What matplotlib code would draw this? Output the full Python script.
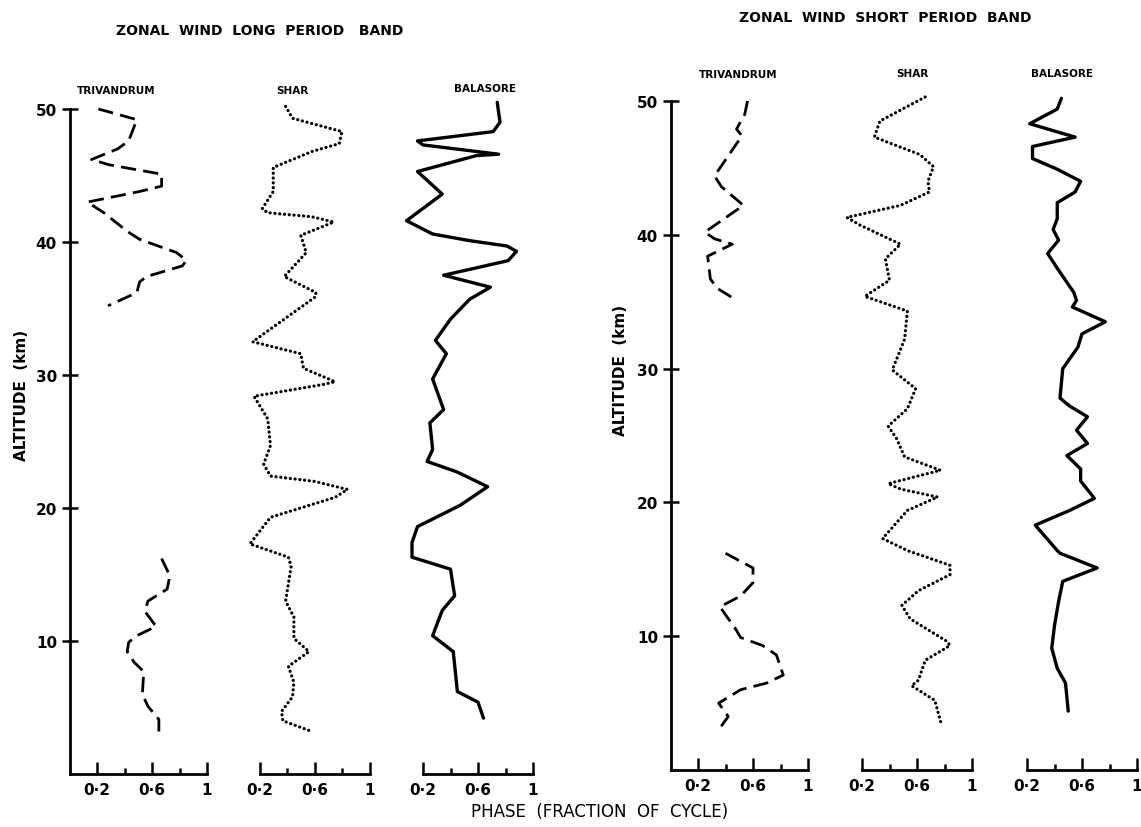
import numpy as np
import matplotlib.pyplot as plt

nan = np.nan

# ---------------- long period band ----------------
lp_triv_alt = [50.0, 49.2, 47.6, 47.0, 46.2, 45.8, 45.1, 44.2, 43.8, 43.0, 42.2, 40.8, 40.2,
               39.2, 38.6, 38.2, 37.4, 37.0, 36.2, 35.2, nan,
               16.2, 14.9, 13.9, 13.0, 12.2, 11.1, 10.4, 9.9, 9.2, 8.4, 7.7, 6.0, 5.1, 4.1, 3.2]
lp_triv_phase = [0.21, 0.49, 0.43, 0.35, 0.16, 0.29, 0.67, 0.67, 0.51, 0.13, 0.25, 0.42, 0.51,
                 0.78, 0.85, 0.82, 0.56, 0.51, 0.49, 0.28, nan,
                 0.67, 0.73, 0.71, 0.57, 0.55, 0.63, 0.49, 0.43, 0.42, 0.47, 0.54, 0.53, 0.57, 0.65, 0.65]

lp_shar_alt = [50.2, 49.3, 48.3, 47.4, 46.8, 45.6, 43.8, 42.5, 42.2, 41.9, 41.5, 40.5, 39.2,
               37.4, 36.2, 35.9, 32.5, 31.6, 30.5, 29.5, 29.3, 28.4, 26.7, 24.7, 23.3, 22.4,
               22.0, 21.4, 20.8, 19.3, 17.3, 16.3, 15.6, 13.0, 11.8, 10.2, 9.2, 8.1, 6.9, 5.8,
               4.7, 4.0, 3.2]
lp_shar_phase = [0.39, 0.44, 0.80, 0.78, 0.58, 0.30, 0.30, 0.22, 0.26, 0.58, 0.74, 0.50, 0.54,
                 0.38, 0.61, 0.61, 0.15, 0.50, 0.52, 0.75, 0.67, 0.16, 0.26, 0.28, 0.23, 0.28,
                 0.60, 0.84, 0.75, 0.28, 0.13, 0.41, 0.43, 0.39, 0.45, 0.45, 0.56, 0.41, 0.45, 0.44,
                 0.36, 0.37, 0.58]

lp_bala_alt = [50.5, 49.0, 48.3, 47.6, 47.3, 46.6, 46.5, 45.3, 43.6, 41.6, 40.6, 40.1, 39.7,
               39.3, 38.6, 37.5, 36.6, 35.7, 34.2, 32.6, 31.6, 29.7, 27.4, 26.4, 24.4, 23.5,
               22.7, 21.6, 20.2, 18.6, 17.4, 16.3, 15.4, 13.4, 12.3, 10.4, 9.2, 6.2, 5.4, 4.2]
lp_bala_phase = [0.74, 0.76, 0.71, 0.16, 0.20, 0.75, 0.59, 0.16, 0.34, 0.08, 0.27, 0.54, 0.81,
                 0.88, 0.82, 0.35, 0.69, 0.54, 0.40, 0.29, 0.37, 0.27, 0.35, 0.25, 0.27, 0.23,
                 0.45, 0.67, 0.47, 0.16, 0.12, 0.12, 0.40, 0.43, 0.34, 0.27, 0.42, 0.45, 0.60, 0.64]

# ---------------- short period band ----------------
sp_triv_alt = [50.0, 49.0, 47.9, 47.4, 44.4, 43.6, 42.2, 40.2, 39.7, 39.3, 38.4, 36.7, 36.0, 35.3, nan,
               16.2, 15.7, 15.1, 14.0, 13.0, 12.2, 11.6, 10.6, 9.9, 9.3, 8.6, 7.1, 6.5, 6.0,
               5.0, 4.0, 3.0]
sp_triv_phase = [0.56, 0.54, 0.48, 0.52, 0.32, 0.37, 0.53, 0.25, 0.32, 0.45, 0.27, 0.29, 0.34, 0.45, nan,
                 0.40, 0.49, 0.60, 0.60, 0.51, 0.36, 0.40, 0.47, 0.51, 0.67, 0.77, 0.82, 0.70, 0.51,
                 0.35, 0.42, 0.35]

sp_shar_alt = [50.3, 48.5, 47.3, 46.0, 45.1, 44.0, 43.2, 42.2, 41.3, 40.7, 39.3, 38.2, 36.6,
               35.4, 34.3, 32.2, 29.9, 28.5, 27.0, 25.7, 24.8, 23.4, 22.4, 21.4, 21.0, 20.4,
               19.4, 17.3, 16.4, 15.3, 14.6, 13.4, 12.3, 11.3, 9.6, 9.3, 8.2, 6.7, 6.3, 5.2, 3.3]
sp_shar_phase = [0.66, 0.33, 0.29, 0.62, 0.72, 0.68, 0.69, 0.48, 0.09, 0.19, 0.48, 0.37, 0.40,
                 0.22, 0.53, 0.51, 0.42, 0.59, 0.53, 0.39, 0.45, 0.51, 0.77, 0.39, 0.48, 0.75,
                 0.53, 0.35, 0.53, 0.84, 0.84, 0.61, 0.49, 0.55, 0.82, 0.84, 0.66, 0.61, 0.56, 0.73, 0.78]

sp_bala_alt = [50.2, 49.4, 48.3, 47.3, 46.6, 45.7, 44.9, 44.0, 43.2, 42.4, 41.2, 40.4, 39.6,
               38.6, 37.5, 35.7, 35.1, 34.6, 33.5, 32.6, 31.6, 30.0, 27.8, 27.2, 26.4, 25.4,
               24.4, 23.5, 22.5, 21.6, 20.3, 19.4, 18.3, 16.4, 16.2, 15.1, 14.1, 12.6, 10.8,
               9.1, 7.6, 6.5, 4.4]
sp_bala_phase = [0.45, 0.42, 0.22, 0.55, 0.24, 0.24, 0.42, 0.59, 0.55, 0.42, 0.42, 0.39, 0.43,
                 0.35, 0.42, 0.54, 0.56, 0.53, 0.77, 0.60, 0.57, 0.46, 0.44, 0.51, 0.64, 0.56,
                 0.64, 0.49, 0.59, 0.59, 0.69, 0.51, 0.26, 0.42, 0.44, 0.71, 0.46, 0.43, 0.40,
                 0.38, 0.42, 0.48, 0.50]

stations = ["TRIVANDRUM", "SHAR", "BALASORE"]
alt_ticks = [10, 20, 30, 40, 50]
phase_major = [0.2, 0.6, 1.0]
phase_minor = [0.4, 0.8]
phase_labels = ["0·2", "0·6", "1"]

W, H = 1141, 828
fig = plt.figure(figsize=(W / 100, H / 100), dpi=100)
fig.patch.set_facecolor("white")

styles = {
    "TRIVANDRUM": dict(linestyle=(0, (5.5, 2.6)), linewidth=2.0, dash_capstyle="butt"),
    "SHAR": dict(linestyle=(0, (0.05, 1.45)), linewidth=2.3, dash_capstyle="round"),
    "BALASORE": dict(linestyle="-", linewidth=2.4, solid_capstyle="round", solid_joinstyle="round"),
}


def make_axes(x0, ytop, ybot, first):
    """x0 = pixel column of phase 0; ytop/ybot = pixel rows of 50 km / 0 km."""
    width = 137.5
    ax = fig.add_axes([x0 / W, 1 - ybot / H, width / W, (ybot - ytop) / H])
    ax.set_xlim(0, 1)
    ax.set_ylim(0, 50)
    ax.patch.set_alpha(0)
    for s in ("top", "right"):
        ax.spines[s].set_visible(False)
    ax.spines["bottom"].set_linewidth(2.0)
    ax.set_xticks(phase_major)
    ax.set_xticklabels(phase_labels, fontsize=11, fontweight="bold")
    ax.set_xticks(phase_minor, minor=True)
    ax.tick_params(axis="x", which="major", direction="in", length=9, width=1.8, pad=6)
    ax.tick_params(axis="x", which="minor", direction="in", length=4, width=1.8)
    if first:
        ax.spines["left"].set_linewidth(2.0)
        ax.spines["left"].set_bounds(0, 50)
        ax.spines["bottom"].set_bounds(0, 1)
        ax.set_yticks(alt_ticks)
        ax.set_yticklabels([str(v) for v in alt_ticks], fontsize=11, fontweight="bold")
        ax.tick_params(axis="y", direction="inout", length=12, width=1.8, pad=3)
    else:
        ax.spines["left"].set_visible(False)
        ax.spines["bottom"].set_bounds(0.2, 1)
        ax.set_yticks([])
    return ax


panels = [
    dict(x0=[69.5, 232.0, 395.5], ytop=110, ybot=775,
         series=[(lp_triv_phase, lp_triv_alt), (lp_shar_phase, lp_shar_alt), (lp_bala_phase, lp_bala_alt)],
         label_pos=[(116, 91), (292, 91), (485, 89)],
         title="ZONAL  WIND  LONG  PERIOD   BAND", title_pos=(260, 31),
         ylabel_pos=(22, 395)),
    dict(x0=[670.5, 834.5, 999.5], ytop=102, ybot=771,
         series=[(sp_triv_phase, sp_triv_alt), (sp_shar_phase, sp_shar_alt), (sp_bala_phase, sp_bala_alt)],
         label_pos=[(738, 75), (912, 74), (1062, 74)],
         title="ZONAL  WIND  SHORT  PERIOD  BAND", title_pos=(885, 18),
         ylabel_pos=(620, 370)),
]

for p in panels:
    for i, name in enumerate(stations):
        ax = make_axes(p["x0"][i], p["ytop"], p["ybot"], i == 0)
        ph, al = p["series"][i]
        ax.plot(ph, al, color="black", clip_on=False, **styles[name])
        lx, ly = p["label_pos"][i]
        fig.text(lx / W, 1 - ly / H, name, ha="center", va="center",
                 fontsize=7.5, fontweight="bold")
    tx, ty = p["title_pos"]
    fig.text(tx / W, 1 - ty / H, p["title"], ha="center", va="center",
             fontsize=10, fontweight="bold")
    yx, yy = p["ylabel_pos"]
    fig.text(yx / W, 1 - yy / H, "ALTITUDE  (km)", ha="center", va="center",
             rotation=90, fontsize=11, fontweight="bold")

fig.text(600 / W, 1 - 812 / H, "PHASE  (FRACTION  OF  CYCLE)", ha="center", va="center",
         fontsize=12)

fig.savefig("out.png", dpi=100, facecolor="white")
